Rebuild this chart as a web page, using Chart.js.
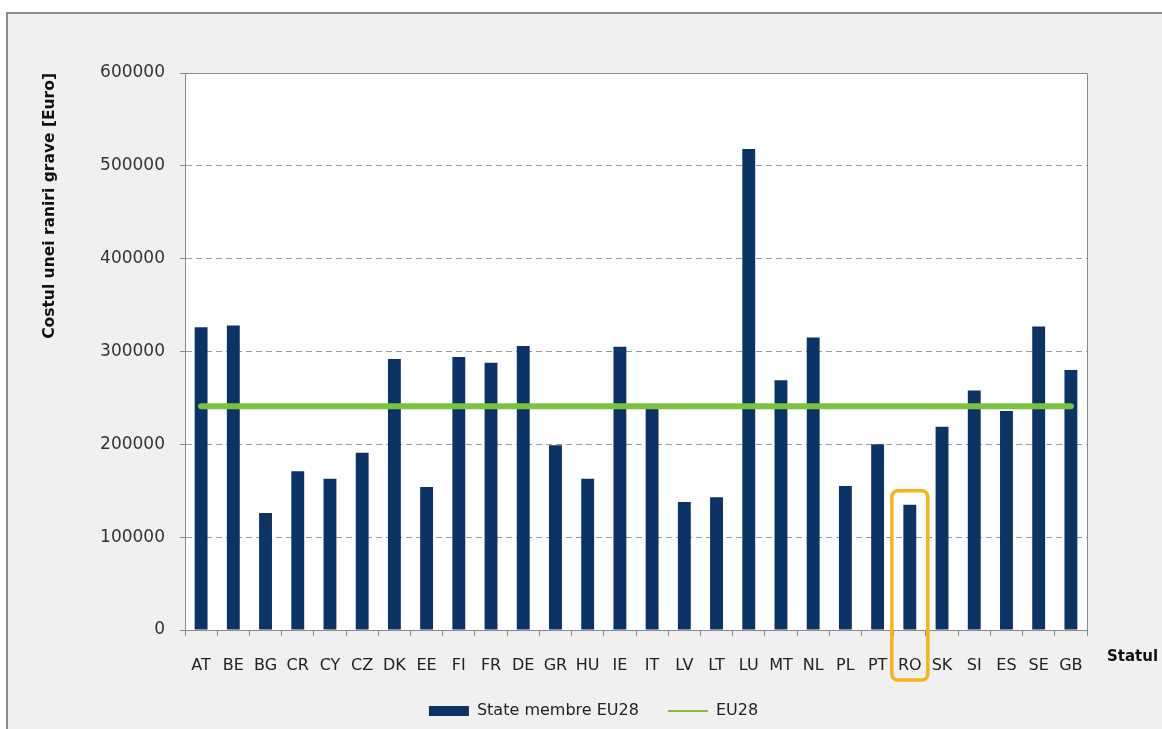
<!DOCTYPE html>
<html>
<head>
<meta charset="utf-8">
<script src="https://cdn.jsdelivr.net/npm/chart.js@4"></script>
<style>
  html, body { margin: 0; padding: 0; background: #ffffff; }
  canvas { display: block; }
</style>
</head>
<body>
<canvas id="costChart" width="1162" height="729"></canvas>
<script>
// data
const countries = ['AT', 'BE', 'BG', 'CR', 'CY', 'CZ', 'DK', 'EE', 'FI', 'FR', 'DE', 'GR', 'HU', 'IE',
	'IT', 'LV', 'LT', 'LU', 'MT', 'NL', 'PL', 'PT', 'RO', 'SK', 'SI', 'ES', 'SE', 'GB'];
const costs = [326000, 328000, 126000, 171000, 163000, 191000, 292000, 154000, 294000, 288000,
	306000, 199000, 163000, 305000, 240000, 138000, 143000, 518000, 269000, 315000,
	155000, 200000, 135000, 219000, 258000, 236000, 327000, 280000];
const eu28Average = 241000;
const yTicks = [0, 100000, 200000, 300000, 400000, 500000, 600000];
const highlighted = 'RO';
const highlightTop = 150000;

const navy = '#0c3366';
const green = '#7cc242';
const axisGrey = '#8a8a8a';

// page background, plot background and frame
const backdrop = {
	id: 'backdrop',
	beforeDraw(chart) {
		const c = chart.ctx;
		const a = chart.chartArea;
		c.save();
		c.fillStyle = '#ffffff';
		c.fillRect(0, 0, chart.width, chart.height);
		c.fillStyle = '#f0f0f0';
		c.fillRect(8, 14, chart.width - 8, chart.height - 14);
		c.strokeStyle = '#8c8c8c';
		c.lineWidth = 2;
		c.beginPath();
		c.moveTo(7, chart.height);
		c.lineTo(7, 13);
		c.lineTo(chart.width, 13);
		c.stroke();
		c.fillStyle = '#ffffff';
		c.fillRect(a.left, a.top, a.right - a.left, a.bottom - a.top);
		c.restore();
	},
	beforeDatasetsDraw(chart) {
		const c = chart.ctx;
		const a = chart.chartArea;
		c.save();
		c.strokeStyle = axisGrey;
		c.lineWidth = 1;
		c.beginPath();
		c.moveTo(a.left - 5, a.top + 0.5);
		c.lineTo(a.right + 0.5, a.top + 0.5);
		c.lineTo(a.right + 0.5, a.bottom);
		c.stroke();
		c.restore();
	},
	afterLayout(chart) {
		// legend sits a little right of the canvas centre in the original
		chart.legend.left += 50;
		chart.legend.right += 50;
	}
};

// "Statul" axis name and the box round RO
const extras = {
	id: 'extras',
	afterDraw(chart) {
		const c = chart.ctx;
		const x = chart.scales.x;
		const y = chart.scales.y;
		c.save();
		c.font = 'bold 15px "DejaVu Sans"';
		c.fillStyle = '#111111';
		c.textBaseline = 'middle';
		c.textAlign = 'left';
		c.fillText('Statul', chart.chartArea.right + 20, x.top + 27);

		const cx = x.getPixelForValue(countries.indexOf(highlighted));
		const top = y.getPixelForValue(highlightTop);
		const bottom = x.top + 50;
		c.strokeStyle = '#f5b41a';
		c.lineWidth = 3.5;
		c.beginPath();
		c.roundRect(cx - 18, top, 36, bottom - top, 6);
		c.stroke();
		c.restore();
	}
};

new Chart(document.getElementById('costChart'), {
	type: 'bar',
	data: {
		labels: countries,
		datasets: [
			{
				type: 'bar',
				label: 'State membre EU28',
				data: costs,
				backgroundColor: navy,
				barPercentage: 0.4,
				categoryPercentage: 1,
				order: 1
			},
			{
				type: 'line',
				label: 'EU28',
				data: countries.map(() => eu28Average),
				borderColor: green,
				borderWidth: 6,
				borderCapStyle: 'round',
				pointRadius: 0,
				tension: 0,
				order: 0
			}
		]
	},
	options: {
		responsive: false,
		animation: false,
		devicePixelRatio: 1,
		layout: { padding: { top: 73, right: 75, left: 0, bottom: 0 } },
		scales: {
			x: {
				afterFit: (s) => { s.height = 44; },
				grid: { drawOnChartArea: false, tickLength: 6, color: axisGrey, offset: true },
				border: { color: axisGrey, width: 1 },
				ticks: { color: '#222222', padding: 20, font: { family: 'DejaVu Sans', size: 16 }, autoSkip: false, maxRotation: 0 }
			},
			y: {
				min: 0,
				max: 600000,
				afterFit: (s) => { s.width = 185; },
				afterBuildTicks: (s) => { s.ticks = yTicks.map((v) => ({ value: v })); },
				grid: { color: '#9a9a9a', tickLength: 5, tickColor: axisGrey },
				border: { color: axisGrey, width: 1, dash: [6, 4] },
				ticks: {
					color: '#333333',
					padding: 15,
					font: { family: 'DejaVu Sans', size: 17 },
					callback: (v) => String(v)
				},
				title: {
					display: true,
					text: 'Costul unei raniri grave [Euro]',
					align: 'end',
					color: '#111111',
					font: { family: 'DejaVu Sans', size: 15.5, weight: 'bold' },
					padding: { top: 41, bottom: 0 }
				}
			}
		},
		plugins: {
			legend: {
				position: 'bottom',
				labels: {
					usePointStyle: true,
					pointStyleWidth: 40,
					boxHeight: 10,
					padding: 29,
					color: '#222222',
					font: { family: 'DejaVu Sans', size: 16 },
					generateLabels: (chart) => chart.data.datasets.map((ds, i) => ({
						text: ds.label,
						datasetIndex: i,
						pointStyle: ds.type === 'line' ? 'line' : 'rect',
						fillStyle: ds.type === 'line' ? 'transparent' : navy,
						strokeStyle: ds.type === 'line' ? green : navy,
						lineWidth: ds.type === 'line' ? 2 : 0,
						fontColor: '#222222',
						hidden: false
					}))
				}
			},
			tooltip: { enabled: false }
		}
	},
	plugins: [backdrop, extras]
});
</script>
</body>
</html>
